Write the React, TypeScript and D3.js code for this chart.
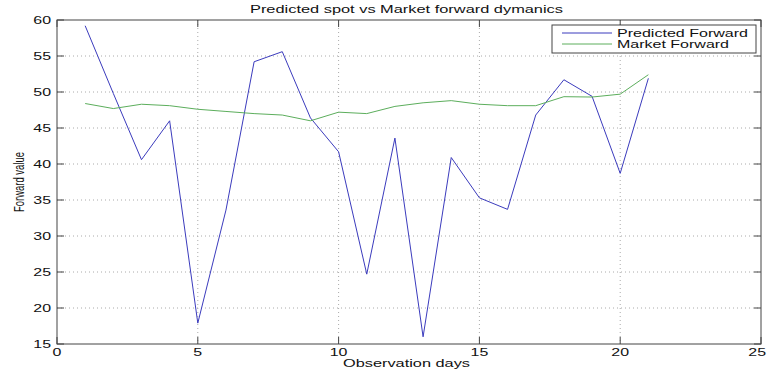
import React from "react";
import * as d3 from "d3";

// Observation days
const days: number[] = [1, 2, 3, 4, 5, 6, 7, 8, 9, 10, 11, 12, 13, 14, 15, 16, 17, 18, 19, 20, 21];

// Series values
const predictedForward: number[] = [
  59.2, 49.8, 40.6, 46.0, 17.9, 33.6, 54.2, 55.6, 46.4, 41.7, 24.7,
  43.6, 16.0, 40.9, 35.3, 33.7, 46.8, 51.7, 49.4, 38.7, 51.9,
];
const marketForward: number[] = [
  48.4, 47.7, 48.3, 48.1, 47.6, 47.3, 47.0, 46.8, 46.0, 47.2, 47.0,
  48.0, 48.5, 48.8, 48.3, 48.1, 48.1, 49.35, 49.3, 49.7, 52.4,
];

// Tick labels
const xTicks: number[] = [0, 5, 10, 15, 20, 25];
const yTicks: number[] = [15, 20, 25, 30, 35, 40, 45, 50, 55, 60];

const seriesNames: string[] = ["Predicted Forward", "Market Forward"];
const seriesColors: string[] = ["#3b3bbd", "#5cae5c"];

const W = 767;
const H = 372;
const M = { left: 57, right: 761, top: 20, bottom: 344 };
const FONT = "'Liberation Sans', Arial, sans-serif";
// horizontal stretch of all lettering (wide figure)
const SX = 1.45;

export default function App() {
  const x = d3.scaleLinear().domain([0, 25]).range([M.left, M.right]);
  const y = d3.scaleLinear().domain([15, 60]).range([M.bottom, M.top]);

  const line = d3
    .line<[number, number]>()
    .x((d) => x(d[0]))
    .y((d) => y(d[1]));

  const series = [predictedForward, marketForward].map((vals) =>
    line(days.map((d, i) => [d, vals[i]] as [number, number]))
  );

  const tickLen = 7;
  const axisColor = "#444";
  const gridColor = "#aaa";
  const legendWidths = [131, 112];

  return (
    <svg
      width={W}
      height={H}
      style={{ position: "absolute", left: 0, top: 0, background: "#fff" }}
      fontFamily={FONT}
    >
      <rect x={0} y={0} width={W} height={H} fill="#fff" />

      {/* grid */}
      {xTicks.slice(1, -1).map((t) => (
        <line
          key={"gx" + t}
          x1={x(t)}
          x2={x(t)}
          y1={M.top}
          y2={M.bottom}
          stroke={gridColor}
          strokeWidth={1}
          strokeDasharray="1,3"
        />
      ))}
      {yTicks.slice(1, -1).map((t) => (
        <line
          key={"gy" + t}
          x1={M.left}
          x2={M.right}
          y1={y(t)}
          y2={y(t)}
          stroke={gridColor}
          strokeWidth={1}
          strokeDasharray="1,3"
        />
      ))}

      {/* data lines */}
      {series.map((p, i) => (
        <path key={i} d={p ?? ""} fill="none" stroke={seriesColors[i]} strokeWidth={1} />
      ))}

      {/* box */}
      <rect
        x={M.left}
        y={M.top}
        width={M.right - M.left}
        height={M.bottom - M.top}
        fill="none"
        stroke={axisColor}
        strokeWidth={1}
      />

      {/* ticks */}
      {xTicks.map((t, i) => {
        const last = i === xTicks.length - 1;
        return (
          <g key={"tx" + t}>
            <line x1={x(t)} x2={x(t)} y1={M.bottom} y2={M.bottom - tickLen} stroke={axisColor} />
            <line x1={x(t)} x2={x(t)} y1={M.top} y2={M.top + tickLen} stroke={axisColor} />
            <text
              transform={`translate(${last ? W - 1 : x(t)},356) scale(${SX},1)`}
              fontSize={11}
              textAnchor={last ? "end" : "middle"}
              fill="#111"
            >
              {t}
            </text>
          </g>
        );
      })}
      {yTicks.map((t) => (
        <g key={"ty" + t}>
          <line x1={M.left} x2={M.left + tickLen} y1={y(t)} y2={y(t)} stroke={axisColor} />
          <line x1={M.right} x2={M.right - tickLen} y1={y(t)} y2={y(t)} stroke={axisColor} />
          <text
            transform={`translate(51,${y(t) + 4}) scale(${SX},1)`}
            fontSize={11}
            textAnchor="end"
            fill="#111"
          >
            {t}
          </text>
        </g>
      ))}

      {/* title and axis labels */}
      <text
        x={406.5}
        y={13}
        fontSize={10.5}
        textAnchor="middle"
        textLength={313}
        lengthAdjust="spacingAndGlyphs"
        fill="#111"
      >
        Predicted spot vs Market forward dymanics
      </text>
      <text
        x={406.5}
        y={367}
        fontSize={11.5}
        textAnchor="middle"
        textLength={127}
        lengthAdjust="spacingAndGlyphs"
        fill="#111"
      >
        Observation days
      </text>
      <text
        transform={`translate(24,${(M.top + M.bottom) / 2}) rotate(-90) scale(1,${SX})`}
        fontSize={10.5}
        textAnchor="middle"
        textLength={60}
        lengthAdjust="spacingAndGlyphs"
        fill="#111"
      >
        Forward value
      </text>

      {/* legend */}
      <g>
        <rect x={552} y={25} width={204} height={28} fill="#fff" stroke={axisColor} strokeWidth={1} />
        {seriesNames.map((name, i) => (
          <g key={name}>
            <line
              x1={562}
              x2={612}
              y1={33 + i * 11}
              y2={33 + i * 11}
              stroke={seriesColors[i]}
              strokeWidth={1}
            />
            <text
              x={617}
              y={37 + i * 11}
              fontSize={10}
              textLength={legendWidths[i]}
              lengthAdjust="spacingAndGlyphs"
              fill="#111"
            >
              {name}
            </text>
          </g>
        ))}
      </g>
    </svg>
  );
}
